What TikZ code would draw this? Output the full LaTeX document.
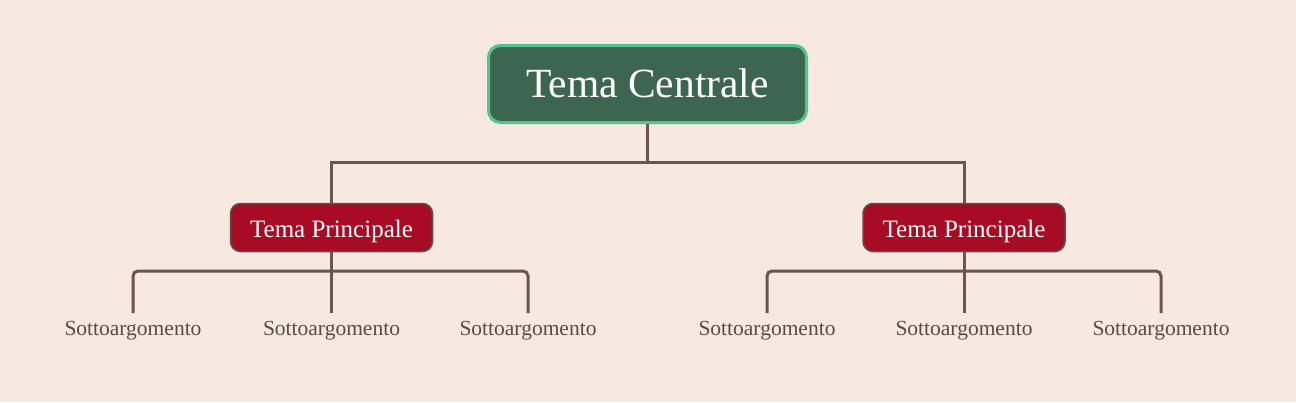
\documentclass[tikz,border=0pt]{standalone}
\usepackage{fontspec}
\setmainfont{Liberation Serif}
\definecolor{bgpaper}{HTML}{F7E9E0}
\definecolor{rootfill}{HTML}{3D6650}
\definecolor{rootline}{HTML}{52C48E}
\definecolor{mainfill}{HTML}{A80C24}
\definecolor{mainline}{HTML}{5A4F4F}
\definecolor{linkcol}{HTML}{6B5550}
\definecolor{subtext}{HTML}{5C4A44}
\tikzset{
  root/.style={draw=rootline, line width=3pt, fill=rootfill, rounded corners=12pt,
    minimum width=318pt, minimum height=77pt, text height=26pt, text depth=0pt,
    text=white, font=\fontsize{41.5}{46}\selectfont},
  topic/.style={draw=mainline, line width=1.5pt, fill=mainfill, rounded corners=10pt,
    minimum width=202pt, minimum height=48pt, text height=19pt, text depth=0pt,
    text=white, font=\fontsize{25}{29}\selectfont},
  subtopic/.style={anchor=north, inner ysep=8.5pt, text height=14pt, text depth=4pt,
    text=subtext, font=\fontsize{21.5}{25}\selectfont},
  link/.style={draw=linkcol, line width=3pt}
}
\begin{document}
\begin{tikzpicture}[x=1pt,y=-1pt]
    \fill[bgpaper] (0,0) rectangle (1296,402);
    \useasboundingbox (0,0) rectangle (1296,402);
    \node[root] (tc) at (647.5,84) {Tema Centrale};
    \node[topic] (tpL) at (331.5,227.5) {Tema Principale};
    \node[topic] (tpR) at (964,227.5) {Tema Principale};
    \foreach \name/\x in {sL1/133, sL2/331.5, sL3/528, sR1/767, sR2/964, sR3/1161}
        \node[subtopic] (\name) at (\x,313) {Sottoargomento};
    \coordinate (bus) at (647.5,162);
    \coordinate (busL) at (331.5,271);
    \coordinate (busR) at (964,271);
    \draw[link] (tc.south) -- (bus) -| (tpL.north);
    \draw[link] (bus) -| (tpR.north);
    \draw[link, rounded corners=5pt] (sL1.north) |- (busL) -| (sL3.north);
    \draw[link] (tpL.south) -- (sL2.north);
    \draw[link, rounded corners=5pt] (sR1.north) |- (busR) -| (sR3.north);
    \draw[link] (tpR.south) -- (sR2.north);
\end{tikzpicture}
\end{document}
